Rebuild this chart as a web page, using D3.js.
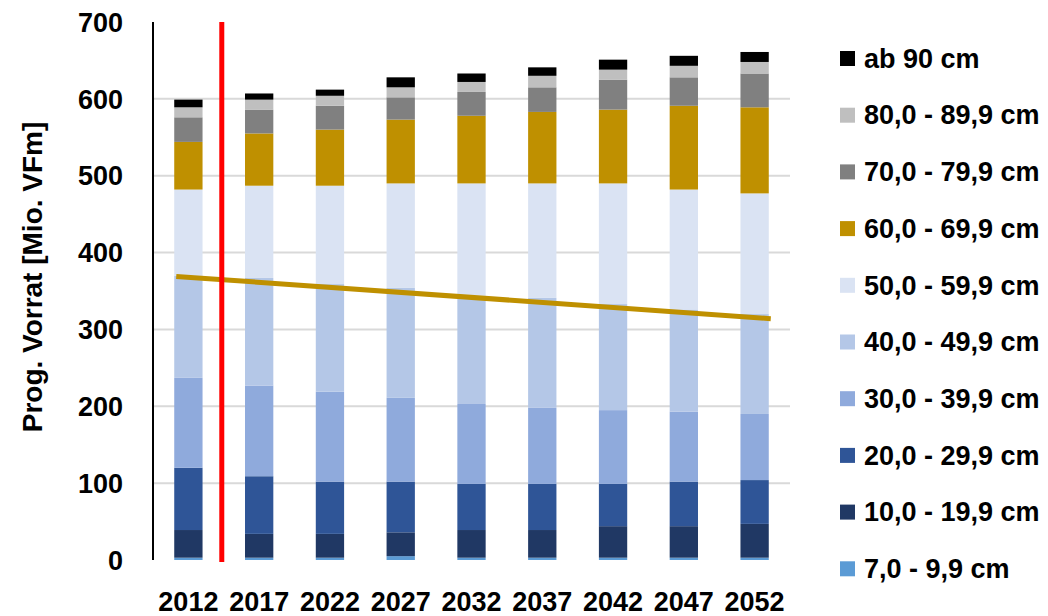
<!DOCTYPE html>
<meta charset="utf-8">

<!-- Load d3.js -->
<script src="https://d3js.org/d3.v7.min.js"></script>

<style>
  body { margin: 0; background: #fff; }
  text { font-family: "Liberation Sans", Arial, sans-serif; font-weight: bold; fill: #000; }
</style>

<!-- Create a div where the graph will take place -->
<div id="my_dataviz"></div>

<script>

// categories (years) and diameter classes
var years = ["2012", "2017", "2022", "2027", "2032", "2037", "2042", "2047", "2052"]

var classes = ["7,0 - 9,9 cm", "10,0 - 19,9 cm", "20,0 - 29,9 cm", "30,0 - 39,9 cm", "40,0 - 49,9 cm",
               "50,0 - 59,9 cm", "60,0 - 69,9 cm", "70,0 - 79,9 cm", "80,0 - 89,9 cm", "ab 90 cm"]

// Mio. VFm per class, one value per year
var d07 = [3, 3, 3, 5, 3, 3, 3, 3, 3]
var d10 = [36, 31, 31, 31, 36, 36, 41, 41, 44]
var d20 = [81, 75, 68, 66, 60, 60, 55, 58, 57]
var d30 = [117, 118, 117, 109, 104, 99, 96, 91, 86]
var d40 = [133, 140, 140, 143, 141, 143, 138, 133, 130]
var d50 = [112, 120, 128, 136, 146, 149, 157, 156, 157]
var d60 = [62, 68, 73, 83, 88, 93, 96, 109, 112]
var d70 = [32, 31, 31, 29, 31, 32, 39, 37, 44]
var d80 = [13, 13, 13, 13, 13, 15, 13, 15, 15]
var d90 = [10, 8, 8, 13, 11, 11, 13, 13, 13]

// trend line (first year, last year)
var trend = [369, 314]

var yTicks = [0, 100, 200, 300, 400, 500, 600, 700]

var colors = ["#5b9bd5", "#203864", "#2f5597", "#8faadc", "#b4c7e7",
              "#dae3f3", "#bf9000", "#808080", "#bfbfbf", "#000000"]

// build table for d3.stack
var series = [d07, d10, d20, d30, d40, d50, d60, d70, d80, d90]
var table = years.map(function(y, i) {
  var row = {year: y}
  classes.forEach(function(c, k) { row[c] = series[k][i] })
  return row
})

var width = 1048, height = 616
var plotLeft = 153, plotRight = 790, plotTop = 22, plotBottom = 560

var svg = d3.select("#my_dataviz")
  .append("svg")
    .attr("width", width)
    .attr("height", height)

var x = d3.scaleBand()
  .domain(years)
  .range([plotLeft, plotRight])
  .paddingInner(0.6)
  .paddingOuter(0.3)

var y = d3.scaleLinear()
  .domain([0, 700])
  .range([plotBottom, plotTop])

var color = d3.scaleOrdinal()
  .domain(classes)
  .range(colors)

// gridlines
svg.selectAll("grid")
  .data(yTicks.filter(function(t){ return t > 0 && t < 700 }))
  .enter()
  .append("line")
    .attr("x1", plotLeft)
    .attr("x2", plotRight)
    .attr("y1", function(d){ return y(d) })
    .attr("y2", function(d){ return y(d) })
    .attr("stroke", "#d9d9d9")
    .attr("stroke-width", 2)

// stacked bars
var stacked = d3.stack().keys(classes)(table)

svg.append("g")
  .selectAll("g")
  .data(stacked)
  .enter()
  .append("g")
    .attr("fill", function(d){ return color(d.key) })
  .selectAll("rect")
  .data(function(d){ return d })
  .enter()
  .append("rect")
    .attr("x", function(d){ return x(d.data.year) })
    .attr("y", function(d){ return y(d[1]) })
    .attr("height", function(d){ return y(d[0]) - y(d[1]) })
    .attr("width", x.bandwidth())

// y axis line + labels
svg.append("line")
  .attr("x1", plotLeft).attr("x2", plotLeft)
  .attr("y1", y(0)).attr("y2", y(700))
  .attr("stroke", "#000")
  .attr("stroke-width", 2)

svg.selectAll("ylabels")
  .data(yTicks)
  .enter()
  .append("text")
    .attr("x", plotLeft - 30)
    .attr("y", function(d){ return y(d) })
    .attr("dy", "0.36em")
    .style("text-anchor", "end")
    .style("font-size", "27px")
    .text(function(d){ return d })

// x labels
svg.selectAll("xlabels")
  .data(years)
  .enter()
  .append("text")
    .attr("x", function(d){ return x(d) + x.bandwidth() / 2 })
    .attr("y", 611)
    .style("text-anchor", "middle")
    .style("font-size", "27px")
    .text(function(d){ return d })

// y title
svg.append("text")
  .attr("transform", "translate(42," + 277 + ")rotate(-90)")
  .style("text-anchor", "middle")
  .style("font-size", "28px")
  .text("Prog. Vorrat [Mio. VFm]")

// trend line
svg.append("line")
  .attr("x1", x(years[0]) + 2)
  .attr("x2", x(years[years.length - 1]) + x.bandwidth() + 2)
  .attr("y1", y(trend[0]))
  .attr("y2", y(trend[1]))
  .attr("stroke", "#bf9000")
  .attr("stroke-width", 5)

// red marker between first and second period
var redX = (x(years[0]) + x(years[1]) + x.bandwidth()) / 2 - 2
svg.append("line")
  .attr("x1", redX).attr("x2", redX)
  .attr("y1", y(700)).attr("y2", y(0) + 2)
  .attr("stroke", "#ff0000")
  .attr("stroke-width", 5)

// legend, top to bottom
var legendItems = classes.slice().reverse()
var legend = svg.selectAll("legend")
  .data(legendItems)
  .enter()
  .append("g")
    .attr("transform", function(d, i){ return "translate(840," + (58 + i * 56.7) + ")" })

legend.append("rect")
  .attr("x", 0)
  .attr("y", -7)
  .attr("width", 15)
  .attr("height", 15)
  .attr("fill", function(d){ return color(d) })

legend.append("text")
  .attr("x", 24)
  .attr("y", 0)
  .attr("dy", "0.36em")
  .style("font-size", "27px")
  .text(function(d){ return d })

</script>
